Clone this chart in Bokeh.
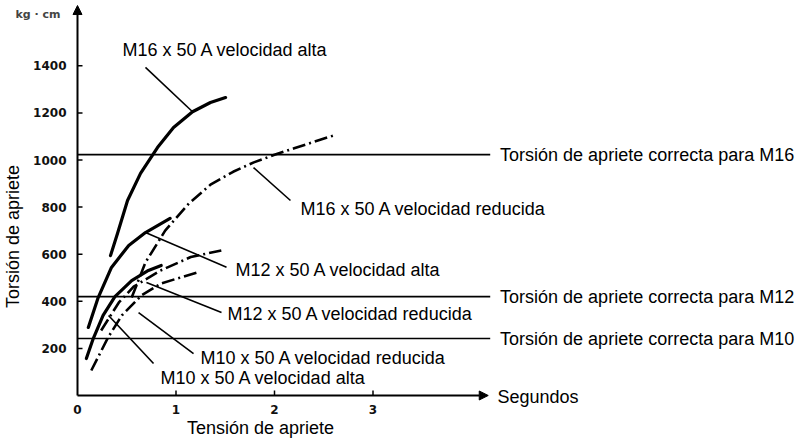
import math
from bokeh.plotting import figure
from bokeh.models import Range1d, Arrow, NormalHead, Label, LabelSet, ColumnDataSource
from bokeh.core.properties import value
from bokeh.embed import file_html
from bokeh.resources import INLINE

# ---------------- data ----------------
x_ticks = [0, 1, 2, 3]
x_tick_labels = ["0", "1", "2", "3"]
y_ticks = [200, 400, 600, 800, 1000, 1200, 1400]
y_tick_labels = ["200", "400", "600", "800", "1000", "1200", "1400"]

m16_alta_x = [0.335, 0.406, 0.508, 0.640, 0.812, 0.975, 1.168, 1.350, 1.503]
m16_alta_y = [594, 688, 828, 943, 1053, 1138, 1205, 1244, 1265]

m16_red_x = [0.55, 0.69, 0.89, 1.13, 1.35, 1.58, 1.79, 2.00, 2.20, 2.60]
m16_red_y = [416, 565, 700, 815, 895, 950, 990, 1022, 1050, 1104]

m12_alta_x = [0.11, 0.21, 0.345, 0.52, 0.69, 0.94]
m12_alta_y = [289, 416, 544, 637, 692, 752]

m12_red_x = [0.24, 0.42, 0.57, 0.84, 1.15, 1.46]
m12_red_y = [276, 395, 462, 530, 588, 616]

m10_alta_x = [0.09, 0.16, 0.26, 0.38, 0.55, 0.72, 0.85]
m10_alta_y = [157, 242, 340, 420, 488, 531, 552]

m10_red_x = [0.14, 0.31, 0.45, 0.65, 0.85, 1.21]
m10_red_y = [106, 246, 340, 425, 476, 522]

ref_names = ["Torsión de apriete correcta para M16",
             "Torsión de apriete correcta para M12",
             "Torsión de apriete correcta para M10"]
ref_values = [1023, 420, 242]
ref_line_end = 4.19
ref_label_x = 4.29

curve_labels = ["M16 x 50 A velocidad alta", "M16 x 50 A velocidad reducida",
                "M12 x 50 A velocidad alta", "M12 x 50 A velocidad reducida",
                "M10 x 50 A velocidad reducida", "M10 x 50 A velocidad alta"]
label_x = [0.457, 2.264, 1.604, 1.523, 1.249, 0.843]
label_y = [1465, 794, 531, 348, 161, 76]

leader_x0 = [0.69, 1.787, 0.69, 0.70, 0.62, 0.315]
leader_y0 = [1393, 968, 692, 480, 352, 340]
leader_x1 = [1.168, 2.162, 1.513, 1.462, 1.178, 0.772]
leader_y1 = [1205, 828, 545, 352, 178, 136]

x_lo, x_hi = -0.7817, 7.4416
y_lo, y_hi = -191.1, 1677.3
x_axis_end = 4.17
y_axis_end = 1656

FONT = "Liberation Sans"
TICK_FONT = "DejaVu Sans"

p = figure(width=810, height=440, x_range=Range1d(x_lo, x_hi), y_range=Range1d(y_lo, y_hi),
           output_backend="svg", toolbar_location=None, title=None,
           min_border_left=0, min_border_right=0, min_border_top=0, min_border_bottom=0)
p.axis.visible = False
p.grid.visible = False
p.outline_line_color = None
p.background_fill_color = "white"
p.border_fill_color = "white"

# axes with arrows
head = dict(size=9, fill_color="black", line_color="black")
p.add_layout(Arrow(end=NormalHead(**head), x_start=0, y_start=0, x_end=0, y_end=y_axis_end,
                   line_width=2, line_color="black"))
p.add_layout(Arrow(end=NormalHead(**head), x_start=0, y_start=0, x_end=x_axis_end, y_end=0,
                   line_width=2, line_color="black"))

# ticks (inside) and tick labels
p.ray(x=x_ticks[1:], y=[0] * 3, length=5, angle=math.pi / 2, length_units="screen",
      line_color="black", line_width=1.5)
p.ray(x=[0] * len(y_ticks), y=y_ticks, length=5, angle=0, length_units="screen",
      line_color="black", line_width=1.5)
p.text(x=x_ticks, y=[0] * 4, text=x_tick_labels, y_offset=14, text_align="center",
       text_baseline="middle", text_font=value(TICK_FONT), text_font_size="12px",
       text_font_style="bold", text_color="#111111")
p.text(x=[0] * len(y_ticks), y=y_ticks, text=y_tick_labels, x_offset=-11, text_align="right",
       text_baseline="middle", text_font=value(TICK_FONT), text_font_size="12px",
       text_font_style="bold", text_color="#111111")

# reference lines
p.segment(x0=[0] * 3, y0=ref_values, x1=[ref_line_end] * 3, y1=ref_values,
          line_color="black", line_width=1.6)

# curves
solid = dict(line_color="black", line_width=3.2, line_cap="round", line_join="round")
dashdot = dict(line_color="black", line_width=2.6, line_dash="13 4 2 4", line_join="round")
p.line(m16_alta_x, m16_alta_y, **solid)
p.line(m12_alta_x, m12_alta_y, **solid)
p.line(m10_alta_x, m10_alta_y, **solid)
p.line(m16_red_x, m16_red_y, **dashdot)
p.line(m12_red_x, m12_red_y, **dashdot)
p.line(m10_red_x, m10_red_y, **dashdot)

# leader lines
p.segment(x0=leader_x0, y0=leader_y0, x1=leader_x1, y1=leader_y1,
          line_color="black", line_width=1.6)

txt_set = dict(text_font=value(FONT), text_font_size="18px", text_color="black",
               text_align="left", text_baseline="middle")
p.add_layout(LabelSet(x="x", y="y", text="t",
                      source=ColumnDataSource(dict(x=label_x, y=label_y, t=curve_labels)), **txt_set))
p.add_layout(LabelSet(x="x", y="y", text="t",
                      source=ColumnDataSource(dict(x=[ref_label_x] * 3, y=ref_values, t=ref_names)), **txt_set))

txt = dict(text_font=FONT, text_font_size="18px", text_color="black", text_baseline="middle")
p.add_layout(Label(x=4.264, y=-8, text="Segundos", text_align="left", **txt))

# axis titles
p.add_layout(Label(x=-0.65, y=675, text="Torsión de apriete", angle=math.pi / 2,
                   text_align="center", **txt))
p.add_layout(Label(x=1.858, y=-140, text="Tensión de apriete", text_align="center", **txt))
p.add_layout(Label(x=-0.63, y=1618, text="kg · cm", text_font=TICK_FONT,
                   text_font_size="11px", text_font_style="bold", text_align="left",
                   text_baseline="middle"))

open("out.html", "w").write(file_html(p, INLINE))
